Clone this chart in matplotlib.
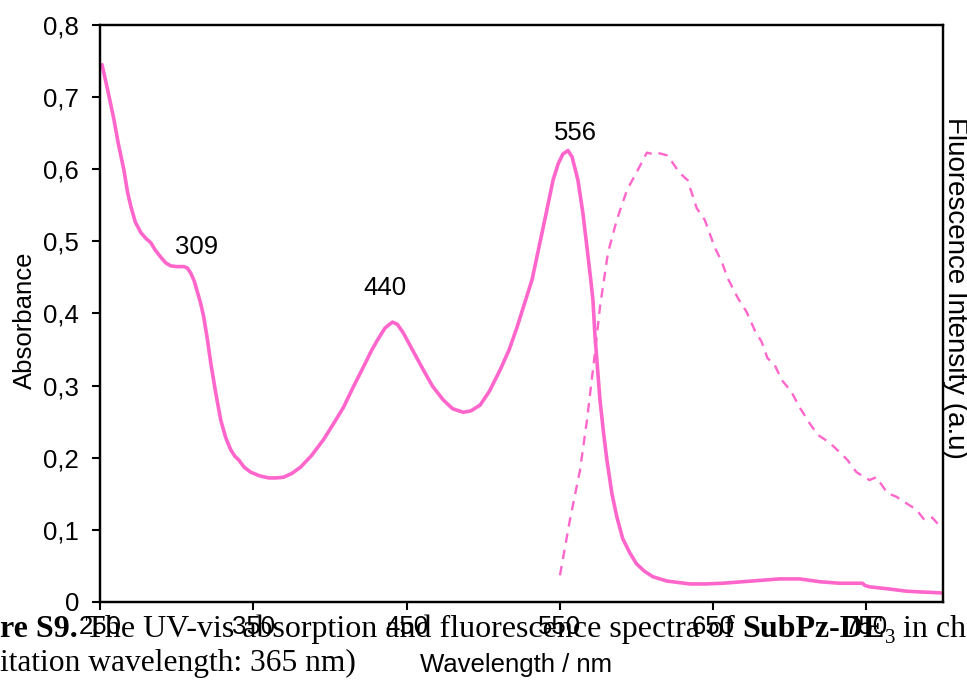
import matplotlib
matplotlib.use("Agg")
import matplotlib.pyplot as plt
from matplotlib.ticker import FixedLocator, FuncFormatter

# absorbance (solid)
abs_nm = [251.3, 255, 259.1, 262, 265.6, 268, 270.2, 273, 276.7, 280, 283.2, 286,
          289.7, 293, 296.2, 300, 304.7, 307, 309.2, 311.5, 313.8, 315.8, 317.7,
          320, 322.3, 325.5, 328.8, 332, 335.3, 338, 340.5, 344, 348.3, 354, 360,
          365, 369.8, 375, 380.9, 388, 395.8, 402, 408.9, 415, 421.9, 427, 431,
          436, 440.8, 444, 447.9, 454, 460.9, 467, 474, 480, 487, 492, 498, 504,
          511.1, 517, 522.1, 527, 531.9, 536, 541, 545.6, 549, 552, 555.3, 558,
          561.8, 565, 567.7, 570, 571.6, 572.9, 576.2, 578.5, 580.7, 584, 587.2,
          591, 595.7, 600, 605, 610.7, 620, 634.8, 645, 656.3, 675, 693.4, 706.4,
          720, 732.4, 747.4, 749, 752, 765, 776, 784.5, 790, 799.5]
abs_val = [0.745, 0.71, 0.669, 0.635, 0.599, 0.568, 0.548, 0.527, 0.512, 0.504,
           0.498, 0.488, 0.478, 0.470, 0.466, 0.465, 0.465, 0.463, 0.456, 0.445,
           0.428, 0.413, 0.395, 0.365, 0.331, 0.29, 0.252, 0.228, 0.211, 0.202,
           0.197, 0.187, 0.180, 0.175, 0.172, 0.172, 0.173, 0.178, 0.187, 0.203,
           0.225, 0.246, 0.270, 0.297, 0.326, 0.348, 0.363, 0.380, 0.388, 0.385,
           0.373, 0.349, 0.322, 0.299, 0.280, 0.268, 0.263, 0.265, 0.273, 0.292,
           0.322, 0.350, 0.381, 0.414, 0.447, 0.488, 0.538, 0.585, 0.608, 0.621,
           0.626, 0.617, 0.585, 0.540, 0.492, 0.450, 0.419, 0.370, 0.280, 0.235,
           0.197, 0.150, 0.118, 0.088, 0.068, 0.053, 0.043, 0.035, 0.029, 0.025,
           0.025, 0.026, 0.029, 0.032, 0.032, 0.028, 0.026, 0.026, 0.023, 0.021,
           0.018, 0.015, 0.014, 0.0135, 0.0125]

# fluorescence (dashed, arbitrary units)
fl_nm = [550.1, 556.6, 563.2, 567.7, 572.9, 576.2, 581.4, 587.2, 593.8, 600.9,
         606.8, 610.7, 613.3, 620.4, 628.1, 633.3, 639.3, 644.5, 651.0, 655.6,
         659.5, 666.0, 671.9, 677.1, 681.6, 685.5, 690.1, 694.7, 701.2, 706.4,
         712.9, 718.1, 725.9, 732.4, 737.6, 743.5, 752.0, 756.5, 763.7, 769.5,
         776.0, 782.6, 787.8, 793.0, 798.8]
fl_val = [0.037, 0.114, 0.183, 0.252, 0.345, 0.409, 0.484, 0.530, 0.571, 0.599,
          0.623, 0.621, 0.623, 0.619, 0.595, 0.585, 0.546, 0.530, 0.492, 0.472,
          0.449, 0.422, 0.402, 0.377, 0.361, 0.338, 0.329, 0.308, 0.291, 0.270,
          0.248, 0.232, 0.221, 0.208, 0.197, 0.180, 0.169, 0.173, 0.151, 0.146,
          0.137, 0.128, 0.114, 0.117, 0.103]

peak_lbl = ["309", "440", "556"]
peak_txt_x = [313.2, 436.2, 559.9]
peak_txt_y = [0.4755, 0.418, 0.634]

xticks = [250, 350, 450, 550, 650, 750]
yticks = [0, 0.1, 0.2, 0.3, 0.4, 0.5, 0.6, 0.7, 0.8]

pink = "#FF66CC"
fs = 18.5
plt.rcParams["font.family"] = ["Liberation Sans", "DejaVu Sans"]

fig = plt.figure(figsize=(9.67, 6.84), dpi=100)
ax = fig.add_axes([0.1034, 0.1199, 0.8718, 0.8436])

ax.plot(abs_nm, abs_val, color=pink, lw=2.6, solid_capstyle="round",
        solid_joinstyle="round")
ax2 = ax.twinx()
ax2.plot(fl_nm, fl_val, color=pink, lw=1.7, ls=(0, (4, 3)))
ax2.set_ylim(0, 0.8)
ax2.set_yticks([])

ax.set_xlim(250, 800)
ax.set_ylim(0, 0.8)
ax.xaxis.set_major_locator(FixedLocator(xticks))
ax.yaxis.set_major_locator(FixedLocator(yticks))
ax.yaxis.set_major_formatter(FuncFormatter(
    lambda v, p: "0" if v == 0 else ("%.1f" % v).replace(".", ",")))
ax.tick_params(direction="out", length=6, width=1.5, labelsize=fs, colors="black")
ax.tick_params(axis="y", pad=9)
for a in (ax, ax2):
    for s in a.spines.values():
        s.set_linewidth(1.6)

for x, y, t in zip(peak_txt_x, peak_txt_y, peak_lbl):
    ax.text(x, y, t, fontsize=fs, ha="center", va="bottom")

ax.set_ylabel("Absorbance", fontsize=fs)
ax.yaxis.set_label_coords(-0.0747, 0.489)
ax.set_xlabel("Wavelength / nm", fontsize=fs)
ax.xaxis.set_label_coords(0.494, -0.088)
ax.text(1.014, 0.545, "Fluorescence Intensity (a.u)", transform=ax.transAxes,
        rotation=-90, fontsize=20, ha="center", va="center")

# caption from the page behind the chart
fig.canvas.draw()
rend = fig.canvas.get_renderer()
serif = ["Liberation Serif", "DejaVu Serif"]


def write_line(pieces, x0, y0):
    x = x0
    for txt, w, sz, dy in pieces:
        t = fig.text(x, y0 + dy, txt, fontsize=sz, fontweight=w, family=serif,
                     ha="left", va="baseline", transform=None)
        bb = t.get_window_extent(rend)
        x = bb.x1


write_line([("re S9.", "bold", 23, 0),
            (" The UV-vis absorption and fluorescence spectra of ", "normal", 23, 0),
            ("SubPz-DE", "bold", 23, 0),
            ("3", "normal", 15, -6),
            (" in ch", "normal", 23, 0)], 0, 684 - 637)
write_line([("itation wavelength: 365 nm)", "normal", 22.7, 0)], 0, 684 - 671)

fig.savefig("out.png", dpi=100)
